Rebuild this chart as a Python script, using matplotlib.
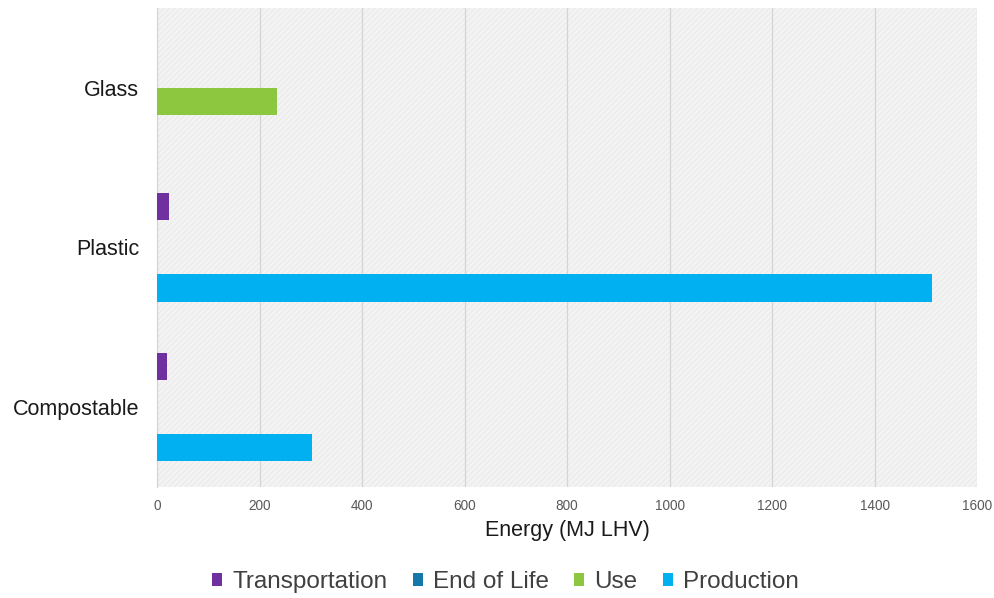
import numpy as np
import matplotlib
matplotlib.use("Agg")
from matplotlib import pyplot as plt
from matplotlib.patches import Rectangle

plt.rcParams['font.family'] = ['Liberation Sans', 'DejaVu Sans']
plt.rcParams['hatch.linewidth'] = 0.4

categories = ["Compostable", "Plastic", "Glass"]
series = ["Production", "Use", "End of Life", "Transportation"]
production = [302, 1512, 0]
use = [0, 0, 234]
end_of_life = [0, 0, 0]
transportation = [20, 23, 0]
colors = ["#00B0F0", "#8DC63F", "#1478A8", "#7030A0"]
xticks = [0, 200, 400, 600, 800, 1000, 1200, 1400, 1600]

values = [production, use, end_of_life, transportation]

fig = plt.figure(figsize=(9.95, 5.98), dpi=100)
ax = fig.add_axes([0.158, 0.186, 0.824, 0.801])

ax.set_facecolor("#f3f3f3")
ax.add_patch(Rectangle((0, 0), 1, 1, transform=ax.transAxes, hatch="//////",
                       fill=False, edgecolor="#e2e2e2", lw=0, zorder=0))

y = np.arange(len(categories))
h = 0.17
bars = []
for i, (name, vals, c) in enumerate(zip(series, values, colors)):
    b = ax.barh(y + (i - 1.5) * h, vals, height=h, color=c, label=name, zorder=3)
    bars.append(b)

ax.set_xlim(0, 1600)
ax.set_ylim(-0.5, 2.5)
ax.set_xticks(xticks)
ax.set_xticklabels([str(t) for t in xticks], fontsize=9.8, color="#595959")
ax.set_yticks(y)
ax.set_yticklabels(categories, fontsize=15.5, color="#1a1a1a")
ax.tick_params(axis="both", length=0)
ax.tick_params(axis="x", pad=9)
ax.tick_params(axis="y", pad=13)
ax.xaxis.grid(True, color="#d4d4d4", lw=0.9, zorder=1)
ax.set_axisbelow(True)
for s in ["top", "right", "bottom"]:
    ax.spines[s].set_visible(False)
ax.spines["left"].set_color("#d4d4d4")

ax.set_xlabel("Energy (MJ LHV)", fontsize=15.5, color="#1a1a1a", labelpad=5)

handles = bars[::-1]
leg = fig.legend(handles, [s for s in series[::-1]], loc="center",
                 bbox_to_anchor=(0.508, 0.026), ncol=4, frameon=False,
                 fontsize=17.5, handlelength=0.42, handleheight=0.42,
                 handletextpad=0.4, columnspacing=1.05, labelcolor="#404040")

fig.savefig("out.png", dpi=100)
